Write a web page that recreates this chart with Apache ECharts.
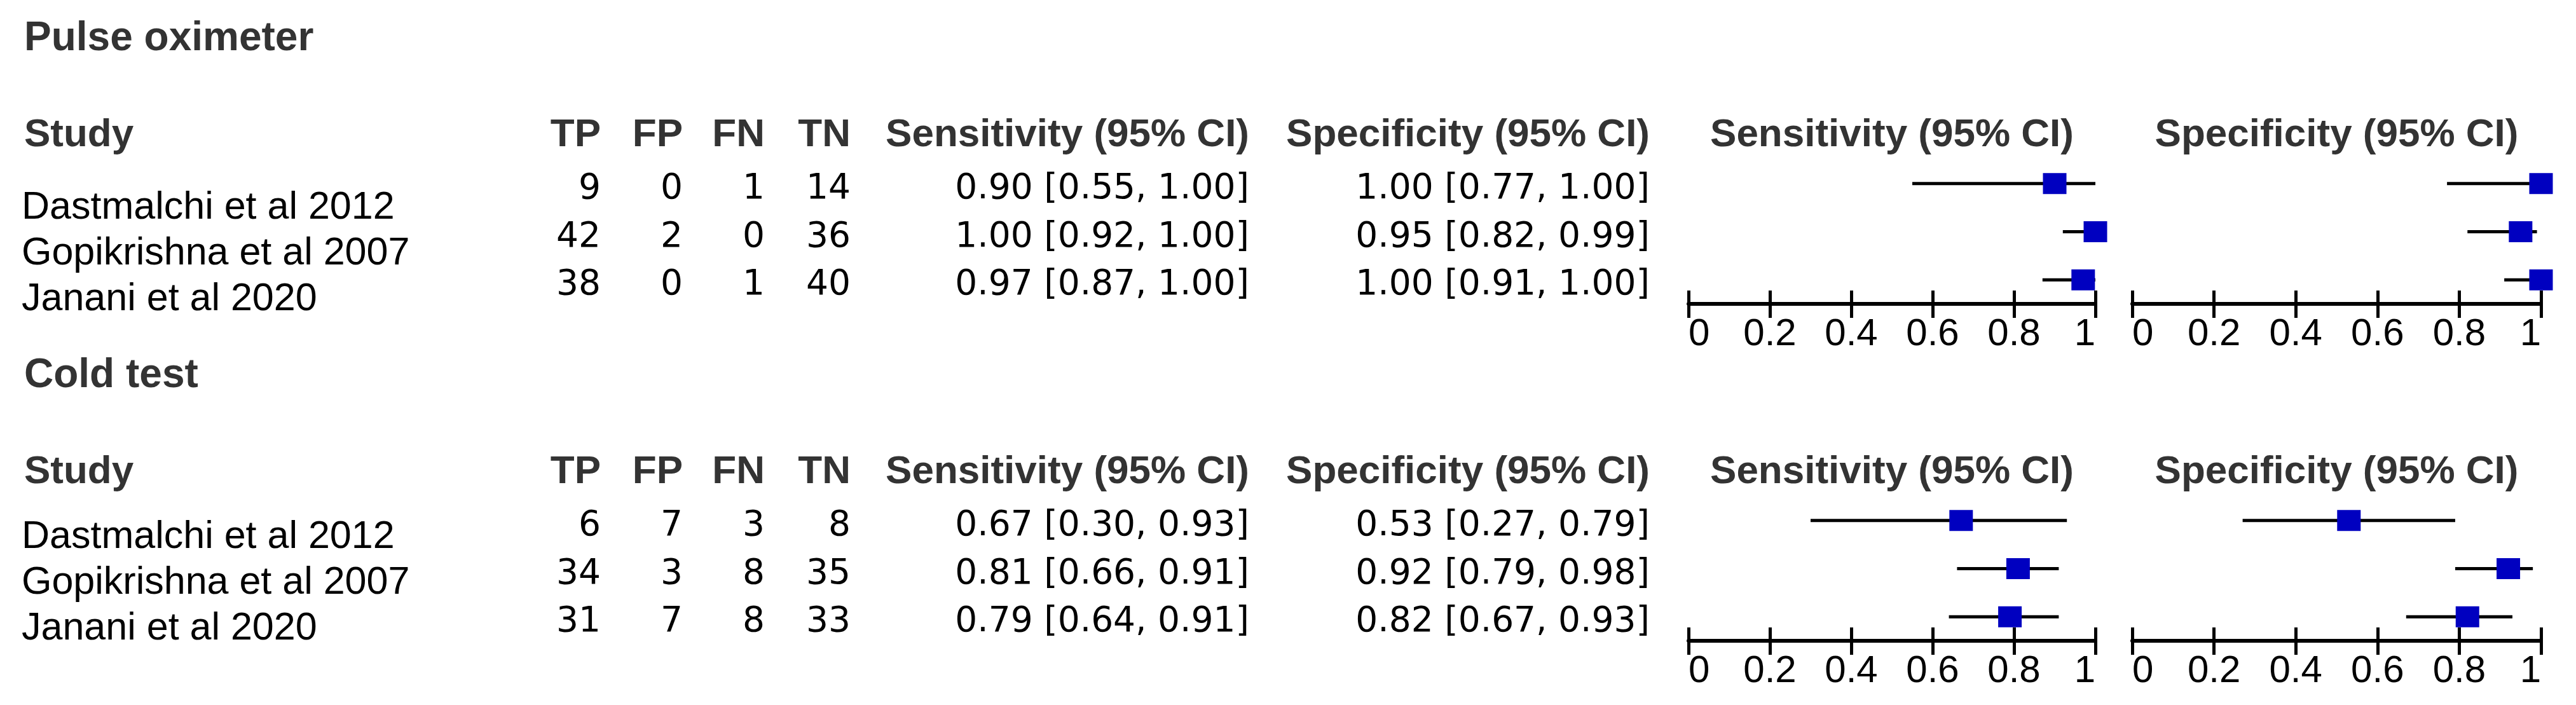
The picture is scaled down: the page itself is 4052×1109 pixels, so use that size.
<!DOCTYPE html>
<html>
<head>
<meta charset="utf-8">
<style>
  html, body { margin: 0; padding: 0; background: #fff; }
  #main { width: 4052px; height: 1109px; }
</style>
<script src="https://cdn.jsdelivr.net/npm/echarts@6/dist/echarts.min.js"></script>
</head>
<body>
<div id="main"></div>
<script>
const chart = echarts.init(document.getElementById('main'))

const studies = ['Dastmalchi et al 2012', 'Gopikrishna et al 2007', 'Janani et al 2020']
const tickLabels = ['0', '0.2', '0.4', '0.6', '0.8', '1']

// Pulse oximeter
const poTP = [9, 42, 38]
const poFP = [0, 2, 0]
const poFN = [1, 0, 1]
const poTN = [14, 36, 40]
const poSens = [0.90, 1.00, 0.97]
const poSensLo = [0.55, 0.92, 0.87]
const poSensHi = [1.00, 1.00, 1.00]
const poSpec = [1.00, 0.95, 1.00]
const poSpecLo = [0.77, 0.82, 0.91]
const poSpecHi = [1.00, 0.99, 1.00]

// Cold test
const ctTP = [6, 34, 31]
const ctFP = [7, 3, 7]
const ctFN = [3, 8, 8]
const ctTN = [8, 35, 33]
const ctSens = [0.67, 0.81, 0.79]
const ctSensLo = [0.30, 0.66, 0.64]
const ctSensHi = [0.93, 0.91, 0.91]
const ctSpec = [0.53, 0.92, 0.82]
const ctSpecLo = [0.27, 0.79, 0.67]
const ctSpecHi = [0.79, 0.98, 0.93]

const blocks = [
  { title: 'Pulse oximeter', tp: poTP, fp: poFP, fn: poFN, tn: poTN,
    plots: [[poSens, poSensLo, poSensHi], [poSpec, poSpecLo, poSpecHi]], off: 0, nameTop: 327 },
  { title: 'Cold test', tp: ctTP, fp: ctFP, fn: ctFN, tn: ctTN,
    plots: [[ctSens, ctSensLo, ctSensHi], [ctSpec, ctSpecLo, ctSpecHi]], off: 530, nameTop: 845 }
]

const plotNames = ['Sensitivity (95% CI)', 'Specificity (95% CI)']
const plotLeft = [2656, 3354]
const plotWidth = [640, 643]

const headFont = 'bold 62px "Liberation Sans", Arial, sans-serif'
const numFont = '55px "DejaVu Sans", sans-serif'
const nameFont = '61px "Liberation Sans", Arial, sans-serif'
const fmt = v => v.toFixed(2)

let grid = [], xAxis = [], yAxis = [], series = []
blocks.forEach((b, bi) => {
  b.plots.forEach((p, pi) => {
    const g = bi * 2 + pi
    grid.push({ left: plotLeft[pi], width: plotWidth[pi], top: 251 + b.off, height: 227, outerBoundsMode: 'none' })
    const tickStyle = { color: '#000', width: 5 }
    xAxis.push({
      type: 'value', gridIndex: g, min: 0, max: 1, interval: 0.2, position: 'bottom',
      axisLine: { show: true, onZero: false, lineStyle: { color: '#000', width: 6 } },
      axisTick: { show: true, length: 22, lineStyle: tickStyle },
      axisLabel: {
        show: true, margin: 18, color: '#000', fontSize: 60, fontFamily: '"Liberation Sans", Arial, sans-serif',
        formatter: v => tickLabels[Math.round(v / 0.2)],
        showMinLabel: true, showMaxLabel: true, alignMinLabel: 'left', alignMaxLabel: 'right'
      },
      splitLine: { show: false }
    })
    // ticks crossing the axis line: second axis with inside ticks
    xAxis.push({
      type: 'value', gridIndex: g, min: 0, max: 1, interval: 0.2, position: 'bottom',
      axisLine: { show: false, onZero: false },
      axisTick: { show: true, inside: true, length: 21, lineStyle: tickStyle },
      axisLabel: { show: false },
      splitLine: { show: false }
    })
    yAxis.push({ type: 'value', gridIndex: g, min: 0.5, max: 3.5, inverse: true, show: false })

    const [est, lo, hi] = p
    series.push({
      type: 'custom', xAxisIndex: 2 * g, yAxisIndex: g, clip: false,
      data: lo.map((l, i) => [l, hi[i], i + 1]),
      encode: { x: [0, 1], y: 2 },
      renderItem: (params, api) => {
        const a = api.coord([api.value(0), api.value(2)])
        const c = api.coord([api.value(1), api.value(2)])
        return { type: 'line', shape: { x1: a[0], y1: a[1], x2: c[0], y2: c[1] }, style: { stroke: '#000', lineWidth: 5 } }
      }
    })
    series.push({
      type: 'scatter', xAxisIndex: 2 * g, yAxisIndex: g, clip: false, z: 5,
      symbol: 'rect', symbolSize: [37, 33],
      itemStyle: { color: '#0000c0', opacity: 1 },
      data: est.map((v, i) => [v, i + 1])
    })
  })
})

chart.setOption({
  backgroundColor: '#fff',
  animation: false,
  grid: grid,
  xAxis: xAxis,
  yAxis: yAxis,
  series: series
})

// table text, rows tied to the plot's y scale
const txt = (text, x, y, font, align, fill) => ({
  type: 'text', x: x, y: y, silent: true,
  style: { text: String(text), font: font, fill: fill || '#000',
    textAlign: align, align: align, textVerticalAlign: 'middle', verticalAlign: 'middle' }
})
const numCols = [['TP', 'tp', 945], ['FP', 'fp', 1074], ['FN', 'fn', 1203], ['TN', 'tn', 1338]]

let graphic = []
blocks.forEach((b, bi) => {
  const g0 = bi * 2
  const headY = 213 + b.off
  graphic.push(txt(b.title, 38, 61 + b.off, 'bold 64px "Liberation Sans", Arial, sans-serif', 'left', '#333'))
  graphic.push(txt('Study', 38, headY, headFont, 'left', '#333'))
  numCols.forEach(c => graphic.push(txt(c[0], c[2], headY, headFont, 'right', '#333')))
  graphic.push(txt(plotNames[0], 1965, headY, headFont, 'right', '#333'))
  graphic.push(txt(plotNames[1], 2595, headY, headFont, 'right', '#333'))
  b.plots.forEach((p, pi) => {
    const cx = chart.convertToPixel({ xAxisIndex: 2 * (g0 + pi) }, 0.5)
    graphic.push(txt(plotNames[pi], cx, headY, headFont, 'center', '#333'))
  })
  studies.forEach((s, i) => {
    const y = chart.convertToPixel({ yAxisIndex: g0 }, i + 1) + 9
    graphic.push(txt(s, 34, b.nameTop + i * 72, nameFont, 'left'))
    numCols.forEach(c => graphic.push(txt(b[c[1]][i], c[2], y, numFont, 'right')))
    const se = b.plots[0], sp = b.plots[1]
    graphic.push(txt(fmt(se[0][i]) + ' [' + fmt(se[1][i]) + ', ' + fmt(se[2][i]) + ']', 1965, y, numFont, 'right'))
    graphic.push(txt(fmt(sp[0][i]) + ' [' + fmt(sp[1][i]) + ', ' + fmt(sp[2][i]) + ']', 2595, y, numFont, 'right'))
  })
})

chart.setOption({ graphic: graphic })
</script>
</body>
</html>
